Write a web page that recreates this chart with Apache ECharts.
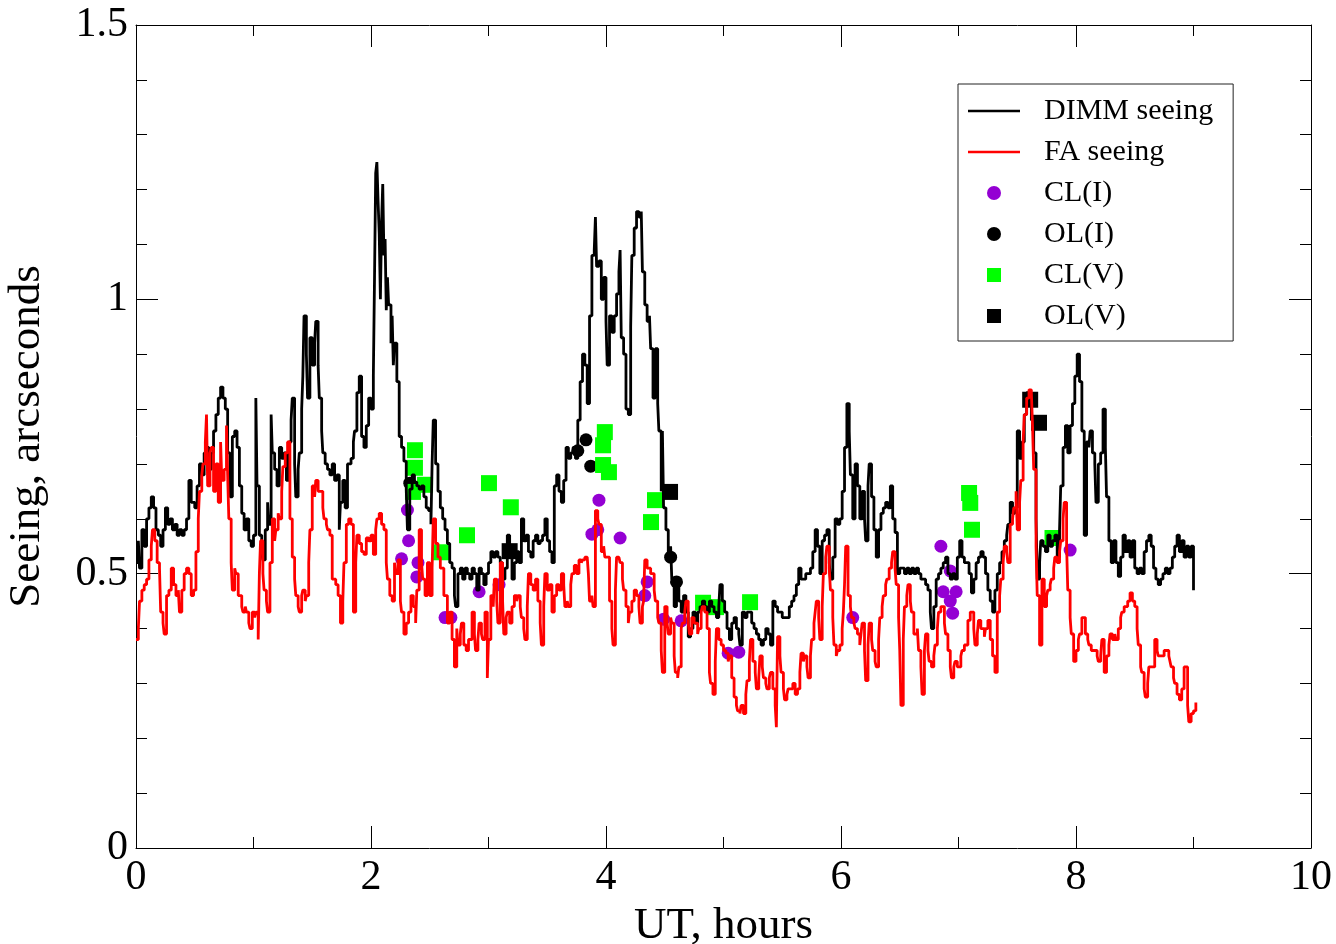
<!DOCTYPE html>
<html>
<head>
<meta charset="utf-8">
<script src="https://cdn.jsdelivr.net/npm/echarts@6/dist/echarts.min.js"></script>
<style>html,body{margin:0;padding:0;background:#fff}#c{width:1336px;height:944px}</style>
</head>
<body>
<div id="c"></div>
<script>
// ---- data: [UT hours, seeing arcsec] ----
const dimmSeeing = [
[0.00,0.52],[0.02,0.56],[0.03,0.51],[0.05,0.58],[0.07,0.55],[0.09,0.60],[0.11,0.62],[0.13,0.64],[0.15,0.62],[0.17,0.58],
[0.19,0.57],[0.21,0.55],[0.23,0.58],[0.25,0.62],[0.27,0.59],[0.29,0.60],[0.31,0.58],[0.33,0.59],[0.35,0.57],[0.37,0.58],
[0.39,0.57],[0.41,0.58],[0.43,0.60],[0.45,0.67],[0.47,0.63],[0.50,0.62],[0.52,0.66],[0.54,0.70],[0.56,0.68],[0.58,0.72],
[0.60,0.73],[0.62,0.69],[0.64,0.72],[0.66,0.76],[0.68,0.79],[0.70,0.82],[0.72,0.84],[0.74,0.82],[0.76,0.80],[0.78,0.72],
[0.80,0.64],[0.82,0.75],[0.84,0.76],[0.86,0.73],[0.88,0.66],[0.90,0.61],[0.92,0.58],[0.94,0.60],[0.96,0.56],[0.98,0.55],
[1.00,0.57],[1.02,0.82],[1.03,0.66],[1.05,0.57],[1.07,0.54],[1.08,0.525],[1.10,0.58],[1.12,0.63],[1.13,0.59],[1.15,0.79],
[1.16,0.72],[1.18,0.69],[1.20,0.66],[1.22,0.73],[1.24,0.71],[1.26,0.72],[1.28,0.67],[1.30,0.74],[1.32,0.78],[1.33,0.82],
[1.35,0.70],[1.36,0.64],[1.38,0.69],[1.39,0.72],[1.41,0.80],[1.42,0.86],[1.43,0.97],[1.45,0.90],[1.46,0.82],[1.48,0.93],
[1.50,0.88],[1.52,0.92],[1.53,0.96],[1.55,0.88],[1.56,0.82],[1.58,0.76],[1.59,0.72],[1.61,0.70],[1.63,0.69],[1.65,0.68],
[1.67,0.70],[1.69,0.67],[1.71,0.68],[1.73,0.58],[1.74,0.63],[1.76,0.67],[1.78,0.62],[1.80,0.70],[1.83,0.71],[1.85,0.74],
[1.86,0.76],[1.88,0.83],[1.90,0.86],[1.92,0.75],[1.94,0.73],[1.96,0.77],[1.98,0.82],[2.00,0.80],[2.02,0.86],[2.03,1.04],
[2.04,1.23],[2.05,1.25],[2.06,1.18],[2.07,1.12],[2.08,1.00],[2.09,1.14],[2.10,1.21],[2.11,1.08],[2.12,1.11],[2.13,0.98],
[2.14,1.04],[2.15,0.99],[2.17,0.92],[2.18,0.97],[2.19,0.88],[2.20,0.92],[2.22,0.85],[2.24,0.75],[2.26,0.73],[2.28,0.705],
[2.30,0.654],[2.31,0.58],[2.33,0.654],[2.35,0.68],[2.37,0.667],[2.39,0.66],[2.41,0.654],[2.43,0.66],[2.45,0.64],[2.47,0.62],
[2.49,0.615],[2.51,0.59],[2.52,0.70],[2.53,0.78],[2.55,0.70],[2.57,0.65],[2.59,0.62],[2.61,0.60],[2.63,0.58],[2.65,0.555],
[2.67,0.52],[2.69,0.51],[2.71,0.46],[2.72,0.44],[2.74,0.50],[2.76,0.51],[2.78,0.49],[2.80,0.51],[2.82,0.50],[2.84,0.49],
[2.86,0.51],[2.88,0.50],[2.90,0.47],[2.92,0.51],[2.94,0.50],[2.96,0.48],[2.98,0.50],[3.00,0.52],[3.02,0.54],[3.04,0.53],
[3.06,0.54],[3.08,0.53],[3.10,0.52],[3.12,0.49],[3.14,0.51],[3.16,0.57],[3.18,0.55],[3.20,0.49],[3.22,0.52],[3.24,0.54],
[3.26,0.52],[3.28,0.60],[3.30,0.56],[3.32,0.57],[3.34,0.54],[3.36,0.53],[3.38,0.56],[3.40,0.57],[3.42,0.555],[3.44,0.56],
[3.46,0.57],[3.48,0.60],[3.50,0.56],[3.52,0.54],[3.54,0.52],[3.56,0.66],[3.58,0.68],[3.60,0.65],[3.62,0.63],[3.64,0.67],
[3.66,0.73],[3.68,0.71],[3.70,0.72],[3.72,0.73],[3.74,0.71],[3.76,0.78],[3.78,0.85],[3.80,0.90],[3.82,0.88],[3.84,0.81],
[3.86,0.97],[3.88,1.08],[3.90,1.09],[3.91,1.15],[3.92,1.06],[3.94,1.07],[3.96,1.00],[3.98,1.04],[4.00,0.96],[4.01,0.88],
[4.03,0.97],[4.05,0.94],[4.07,0.97],[4.09,1.01],[4.11,1.05],[4.12,1.09],[4.13,0.93],[4.15,0.90],[4.17,0.80],[4.19,0.79],
[4.21,0.95],[4.22,1.08],[4.24,1.13],[4.26,1.16],[4.28,1.15],[4.30,1.16],[4.31,1.05],[4.33,0.99],[4.35,0.96],[4.37,0.97],
[4.38,0.91],[4.40,0.82],[4.42,0.91],[4.44,0.81],[4.45,0.76],[4.47,0.65],[4.48,0.76],[4.49,0.62],[4.51,0.58],[4.53,0.53],
[4.55,0.55],[4.56,0.49],[4.58,0.44],[4.60,0.48],[4.62,0.45],[4.64,0.43],[4.66,0.46],[4.68,0.43],[4.70,0.385],[4.72,0.40],
[4.74,0.43],[4.76,0.41],[4.78,0.43],[4.80,0.44],[4.82,0.45],[4.84,0.44],[4.86,0.43],[4.88,0.45],[4.90,0.44],[4.92,0.43],
[4.94,0.42],[4.96,0.44],[4.97,0.48],[4.99,0.45],[5.01,0.43],[5.03,0.40],[5.05,0.38],[5.07,0.41],[5.09,0.42],[5.11,0.40],
[5.13,0.39],[5.14,0.37],[5.16,0.43],[5.18,0.42],[5.20,0.43],[5.22,0.43],[5.24,0.41],[5.26,0.40],[5.28,0.39],[5.30,0.38],
[5.32,0.37],[5.34,0.38],[5.36,0.40],[5.38,0.39],[5.40,0.37],[5.42,0.45],[5.44,0.44],[5.46,0.43],[5.48,0.43],[5.50,0.42],
[5.52,0.42],[5.54,0.42],[5.56,0.44],[5.58,0.45],[5.60,0.46],[5.62,0.48],[5.64,0.51],[5.66,0.49],[5.68,0.49],[5.70,0.50],
[5.72,0.50],[5.74,0.51],[5.76,0.54],[5.78,0.58],[5.80,0.55],[5.82,0.50],[5.84,0.56],[5.86,0.57],[5.88,0.58],[5.90,0.52],
[5.91,0.49],[5.93,0.53],[5.95,0.60],[5.97,0.59],[5.99,0.60],[6.01,0.65],[6.03,0.73],[6.05,0.81],[6.07,0.76],[6.08,0.68],
[6.10,0.60],[6.12,0.70],[6.14,0.66],[6.16,0.60],[6.18,0.65],[6.20,0.60],[6.21,0.56],[6.23,0.66],[6.24,0.70],[6.26,0.64],
[6.28,0.58],[6.30,0.53],[6.32,0.58],[6.34,0.61],[6.36,0.62],[6.38,0.63],[6.40,0.62],[6.42,0.66],[6.44,0.60],[6.46,0.575],
[6.48,0.50],[6.50,0.51],[6.52,0.51],[6.54,0.50],[6.56,0.51],[6.58,0.50],[6.60,0.51],[6.62,0.50],[6.64,0.51],[6.66,0.50],
[6.68,0.49],[6.70,0.49],[6.72,0.48],[6.74,0.47],[6.76,0.43],[6.77,0.40],[6.79,0.44],[6.81,0.49],[6.83,0.50],[6.85,0.51],
[6.87,0.52],[6.89,0.53],[6.91,0.50],[6.93,0.49],[6.95,0.50],[6.97,0.49],[6.99,0.53],[7.01,0.56],[7.03,0.53],[7.05,0.52],
[7.07,0.52],[7.09,0.50],[7.11,0.465],[7.13,0.49],[7.15,0.52],[7.17,0.53],[7.19,0.54],[7.21,0.53],[7.23,0.50],[7.25,0.47],
[7.27,0.45],[7.29,0.43],[7.31,0.47],[7.33,0.50],[7.35,0.52],[7.37,0.54],[7.39,0.56],[7.41,0.57],[7.42,0.59],[7.44,0.63],
[7.46,0.61],[7.48,0.62],[7.50,0.76],[7.52,0.71],[7.54,0.74],[7.56,0.79],[7.58,0.83],[7.60,0.82],[7.62,0.78],[7.64,0.72],
[7.66,0.60],[7.67,0.49],[7.69,0.52],[7.70,0.56],[7.72,0.55],[7.74,0.54],[7.76,0.57],[7.78,0.55],[7.80,0.56],[7.82,0.57],
[7.84,0.53],[7.86,0.58],[7.87,0.66],[7.89,0.73],[7.91,0.77],[7.93,0.72],[7.95,0.77],[7.97,0.81],[7.99,0.86],[8.01,0.90],
[8.03,0.85],[8.05,0.76],[8.07,0.57],[8.09,0.74],[8.11,0.73],[8.12,0.76],[8.14,0.72],[8.16,0.70],[8.17,0.63],[8.19,0.70],
[8.21,0.72],[8.23,0.80],[8.25,0.73],[8.26,0.64],[8.28,0.56],[8.30,0.52],[8.32,0.56],[8.34,0.52],[8.36,0.495],[8.38,0.53],
[8.40,0.57],[8.42,0.54],[8.44,0.56],[8.46,0.53],[8.48,0.56],[8.50,0.51],[8.52,0.50],[8.54,0.51],[8.56,0.50],[8.58,0.54],
[8.60,0.56],[8.62,0.57],[8.64,0.55],[8.66,0.51],[8.68,0.49],[8.70,0.48],[8.72,0.49],[8.74,0.50],[8.76,0.51],[8.78,0.50],
[8.80,0.51],[8.82,0.53],[8.84,0.55],[8.86,0.57],[8.88,0.54],[8.90,0.56],[8.92,0.53],[8.94,0.55],[8.96,0.53],[8.98,0.55],
[9.00,0.47]
];
const faSeeing = [
[0.00,0.38],[0.02,0.40],[0.03,0.45],[0.05,0.47],[0.07,0.48],[0.09,0.49],[0.11,0.525],[0.13,0.55],[0.14,0.58],[0.16,0.56],
[0.18,0.52],[0.20,0.51],[0.21,0.43],[0.23,0.41],[0.24,0.39],[0.26,0.46],[0.28,0.47],[0.30,0.51],[0.32,0.48],[0.34,0.46],
[0.36,0.47],[0.37,0.43],[0.39,0.47],[0.41,0.50],[0.43,0.51],[0.45,0.50],[0.47,0.46],[0.49,0.47],[0.51,0.54],[0.53,0.60],
[0.54,0.65],[0.56,0.68],[0.57,0.70],[0.59,0.74],[0.60,0.79],[0.61,0.66],[0.63,0.72],[0.64,0.73],[0.66,0.65],[0.68,0.70],
[0.70,0.63],[0.72,0.74],[0.73,0.67],[0.75,0.69],[0.77,0.77],[0.78,0.68],[0.79,0.60],[0.81,0.52],[0.82,0.47],[0.84,0.51],
[0.85,0.50],[0.87,0.46],[0.88,0.46],[0.90,0.44],[0.91,0.43],[0.93,0.44],[0.94,0.43],[0.96,0.41],[0.97,0.40],[0.99,0.43],
[1.01,0.42],[1.02,0.43],[1.04,0.38],[1.05,0.50],[1.06,0.56],[1.08,0.50],[1.09,0.47],[1.11,0.45],[1.12,0.43],[1.14,0.52],
[1.16,0.60],[1.18,0.56],[1.19,0.58],[1.21,0.61],[1.22,0.60],[1.24,0.65],[1.25,0.695],[1.27,0.72],[1.29,0.74],[1.31,0.60],
[1.33,0.53],[1.35,0.49],[1.36,0.46],[1.38,0.44],[1.39,0.43],[1.41,0.46],[1.42,0.47],[1.44,0.45],[1.45,0.46],[1.47,0.52],
[1.48,0.58],[1.50,0.66],[1.52,0.64],[1.53,0.67],[1.55,0.65],[1.57,0.65],[1.59,0.62],[1.60,0.60],[1.62,0.59],[1.63,0.58],
[1.65,0.57],[1.67,0.49],[1.70,0.48],[1.72,0.46],[1.74,0.41],[1.76,0.45],[1.77,0.52],[1.79,0.59],[1.81,0.60],[1.83,0.59],
[1.85,0.43],[1.87,0.52],[1.88,0.57],[1.90,0.555],[1.92,0.54],[1.94,0.535],[1.96,0.565],[1.98,0.56],[2.00,0.57],[2.02,0.535],
[2.04,0.58],[2.05,0.60],[2.07,0.61],[2.09,0.59],[2.11,0.58],[2.13,0.52],[2.14,0.49],[2.16,0.46],[2.18,0.45],[2.20,0.52],
[2.21,0.50],[2.23,0.525],[2.25,0.45],[2.26,0.43],[2.28,0.39],[2.30,0.41],[2.32,0.43],[2.34,0.46],[2.36,0.44],[2.38,0.41],
[2.39,0.47],[2.41,0.58],[2.43,0.52],[2.44,0.49],[2.46,0.46],[2.48,0.52],[2.50,0.46],[2.52,0.51],[2.53,0.60],[2.55,0.555],
[2.57,0.53],[2.59,0.51],[2.62,0.46],[2.65,0.41],[2.67,0.43],[2.69,0.38],[2.71,0.33],[2.73,0.40],[2.74,0.37],[2.76,0.39],
[2.77,0.41],[2.79,0.37],[2.81,0.36],[2.83,0.38],[2.86,0.43],[2.88,0.39],[2.89,0.36],[2.91,0.38],[2.92,0.41],[2.94,0.39],
[2.95,0.38],[2.97,0.43],[2.99,0.31],[3.00,0.38],[3.02,0.46],[3.04,0.44],[3.05,0.49],[3.07,0.45],[3.08,0.41],[3.10,0.52],
[3.12,0.45],[3.13,0.39],[3.15,0.42],[3.16,0.43],[3.18,0.41],[3.20,0.44],[3.22,0.46],[3.24,0.45],[3.25,0.46],[3.27,0.44],
[3.28,0.42],[3.30,0.40],[3.31,0.38],[3.33,0.44],[3.34,0.50],[3.36,0.48],[3.38,0.47],[3.40,0.49],[3.42,0.45],[3.44,0.41],
[3.45,0.37],[3.47,0.44],[3.48,0.50],[3.50,0.47],[3.52,0.48],[3.54,0.43],[3.56,0.46],[3.58,0.48],[3.60,0.47],[3.62,0.50],
[3.64,0.48],[3.65,0.44],[3.67,0.45],[3.68,0.44],[3.70,0.48],[3.71,0.50],[3.73,0.515],[3.75,0.50],[3.77,0.525],[3.79,0.52],
[3.80,0.525],[3.82,0.53],[3.84,0.53],[3.85,0.50],[3.86,0.45],[3.88,0.46],[3.89,0.44],[3.91,0.615],[3.93,0.60],[3.94,0.59],
[3.96,0.54],[3.98,0.55],[3.99,0.53],[4.01,0.53],[4.03,0.45],[4.05,0.40],[4.06,0.37],[4.08,0.47],[4.09,0.53],[4.11,0.53],
[4.12,0.52],[4.14,0.49],[4.15,0.47],[4.17,0.44],[4.19,0.41],[4.20,0.43],[4.22,0.45],[4.24,0.47],[4.26,0.46],[4.28,0.44],
[4.29,0.41],[4.31,0.44],[4.32,0.45],[4.33,0.525],[4.35,0.51],[4.36,0.51],[4.38,0.50],[4.39,0.50],[4.41,0.47],[4.42,0.45],
[4.44,0.42],[4.45,0.41],[4.47,0.36],[4.48,0.32],[4.50,0.44],[4.52,0.41],[4.53,0.39],[4.55,0.42],[4.56,0.41],[4.58,0.35],
[4.59,0.32],[4.61,0.31],[4.62,0.33],[4.64,0.40],[4.65,0.41],[4.67,0.43],[4.68,0.45],[4.70,0.41],[4.71,0.39],[4.73,0.42],
[4.75,0.41],[4.76,0.41],[4.78,0.39],[4.79,0.40],[4.81,0.43],[4.82,0.44],[4.84,0.43],[4.86,0.40],[4.88,0.32],[4.89,0.30],
[4.91,0.28],[4.93,0.34],[4.94,0.40],[4.96,0.38],[4.98,0.37],[5.00,0.36],[5.02,0.355],[5.04,0.34],[5.05,0.35],[5.07,0.31],
[5.09,0.275],[5.11,0.26],[5.12,0.25],[5.14,0.245],[5.15,0.26],[5.17,0.245],[5.19,0.28],[5.20,0.305],[5.22,0.34],[5.23,0.38],
[5.25,0.34],[5.27,0.32],[5.28,0.29],[5.30,0.31],[5.31,0.35],[5.33,0.33],[5.34,0.31],[5.36,0.30],[5.37,0.29],[5.39,0.31],
[5.40,0.32],[5.42,0.29],[5.44,0.26],[5.45,0.22],[5.46,0.385],[5.48,0.35],[5.49,0.32],[5.51,0.29],[5.52,0.27],[5.54,0.28],
[5.55,0.29],[5.57,0.29],[5.59,0.30],[5.61,0.28],[5.63,0.29],[5.65,0.32],[5.66,0.355],[5.68,0.34],[5.69,0.35],[5.71,0.33],
[5.72,0.31],[5.74,0.35],[5.75,0.38],[5.77,0.41],[5.78,0.43],[5.79,0.45],[5.81,0.42],[5.82,0.38],[5.84,0.44],[5.85,0.50],
[5.87,0.53],[5.88,0.55],[5.90,0.51],[5.91,0.47],[5.93,0.42],[5.94,0.37],[5.96,0.35],[5.97,0.36],[5.99,0.37],[6.01,0.40],
[6.02,0.43],[6.03,0.48],[6.04,0.55],[6.06,0.46],[6.08,0.44],[6.09,0.42],[6.11,0.41],[6.12,0.40],[6.14,0.39],[6.16,0.37],
[6.17,0.39],[6.18,0.41],[6.20,0.36],[6.21,0.305],[6.23,0.37],[6.24,0.41],[6.26,0.38],[6.27,0.36],[6.29,0.34],[6.30,0.33],
[6.32,0.38],[6.33,0.42],[6.35,0.44],[6.36,0.46],[6.38,0.48],[6.39,0.49],[6.41,0.51],[6.43,0.52],[6.44,0.54],[6.46,0.51],
[6.47,0.48],[6.49,0.42],[6.50,0.36],[6.51,0.26],[6.53,0.38],[6.54,0.44],[6.56,0.46],[6.57,0.48],[6.59,0.45],[6.60,0.43],
[6.62,0.39],[6.63,0.39],[6.65,0.40],[6.66,0.36],[6.68,0.33],[6.69,0.28],[6.71,0.36],[6.72,0.39],[6.74,0.36],[6.75,0.34],
[6.77,0.33],[6.79,0.35],[6.80,0.37],[6.82,0.40],[6.83,0.43],[6.85,0.44],[6.86,0.44],[6.88,0.41],[6.89,0.39],[6.91,0.36],
[6.93,0.33],[6.94,0.31],[6.96,0.33],[6.97,0.34],[6.99,0.33],[7.00,0.33],[7.02,0.35],[7.03,0.36],[7.05,0.37],[7.06,0.37],
[7.08,0.415],[7.10,0.43],[7.11,0.43],[7.13,0.40],[7.14,0.37],[7.16,0.39],[7.17,0.415],[7.19,0.40],[7.20,0.40],[7.22,0.385],
[7.23,0.40],[7.25,0.415],[7.27,0.38],[7.29,0.35],[7.31,0.32],[7.33,0.43],[7.35,0.46],[7.36,0.49],[7.38,0.52],[7.39,0.55],
[7.41,0.54],[7.42,0.52],[7.44,0.59],[7.46,0.60],[7.47,0.62],[7.49,0.65],[7.50,0.58],[7.52,0.63],[7.53,0.67],[7.55,0.74],
[7.56,0.79],[7.58,0.82],[7.60,0.835],[7.62,0.83],[7.63,0.77],[7.64,0.69],[7.66,0.55],[7.67,0.46],[7.69,0.37],[7.71,0.49],
[7.73,0.44],[7.75,0.46],[7.76,0.47],[7.78,0.48],[7.79,0.49],[7.81,0.51],[7.82,0.53],[7.84,0.52],[7.86,0.54],[7.87,0.56],
[7.89,0.60],[7.90,0.63],[7.92,0.55],[7.93,0.47],[7.95,0.42],[7.96,0.39],[7.98,0.34],[8.00,0.36],[8.02,0.38],[8.03,0.39],
[8.05,0.42],[8.06,0.42],[8.08,0.39],[8.10,0.38],[8.11,0.37],[8.13,0.36],[8.14,0.36],[8.16,0.36],[8.18,0.35],[8.19,0.34],
[8.21,0.35],[8.22,0.38],[8.24,0.32],[8.26,0.35],[8.28,0.37],[8.29,0.39],[8.31,0.38],[8.33,0.39],[8.34,0.38],[8.36,0.40],
[8.38,0.42],[8.39,0.43],[8.41,0.44],[8.42,0.44],[8.44,0.45],[8.46,0.465],[8.48,0.45],[8.50,0.44],[8.52,0.40],[8.53,0.37],
[8.55,0.33],[8.56,0.32],[8.58,0.29],[8.59,0.275],[8.61,0.30],[8.62,0.33],[8.64,0.33],[8.65,0.33],[8.67,0.38],[8.69,0.36],
[8.70,0.35],[8.72,0.35],[8.73,0.35],[8.75,0.36],[8.77,0.36],[8.79,0.35],[8.80,0.34],[8.81,0.33],[8.83,0.31],[8.84,0.30],
[8.86,0.28],[8.88,0.27],[8.90,0.29],[8.92,0.33],[8.93,0.33],[8.95,0.26],[8.96,0.23],[8.98,0.245],[9.00,0.25],[9.02,0.265]
];
const clI = [
[2.26,0.527],[2.31,0.616],[2.32,0.56],[2.39,0.494],[2.40,0.52],[2.63,0.42],[2.68,0.42],[2.92,0.467],[3.09,0.48],
[3.88,0.572],[3.93,0.58],[3.94,0.634],[4.12,0.565],[4.33,0.46],[4.35,0.485],[4.49,0.417],[4.64,0.414],
[5.04,0.355],[5.13,0.357],[6.10,0.42],[6.85,0.55],[6.93,0.505],[6.87,0.467],[6.98,0.467],[6.93,0.450],[6.95,0.428],[7.95,0.543]
];
const olI = [[2.33,0.665],[3.76,0.724],[3.83,0.744],[3.87,0.696],[4.55,0.53],[4.60,0.485]];
const clV = [
[2.374,0.725],[2.374,0.693],[2.46,0.662],[2.357,0.649],[2.596,0.539],[2.817,0.570],[3.004,0.665],[3.19,0.621],
[3.99,0.758],[3.975,0.734],[3.975,0.698],[4.025,0.685],[4.417,0.634],[4.383,0.594],[4.826,0.447],[4.936,0.439],
[5.226,0.448],[7.09,0.647],[7.10,0.629],[7.115,0.580],[7.80,0.565]
];
const olV = [[3.18,0.541],[4.545,0.649],[7.61,0.817],[7.685,0.775]];
const seriesNames = ['DIMM seeing','FA seeing','CL(I)','OL(I)','CL(V)','OL(V)'];
const xTitle = 'UT, hours';
const yTitle = 'Seeing, arcseconds';

const FONT = '"Liberation Serif", "Times New Roman", serif';
const LINE_ICON = 'path://M0,0H52V2.5H0Z';
const SQUARE_ICON = 'path://M0,0H10V10H0Z';
const chart = echarts.init(document.getElementById('c'), null, {renderer:'canvas'});
const axisCommon = {
  type:'value', splitLine:{show:false},
  axisLine:{show:true, onZero:false, lineStyle:{color:'#000', width:1}},
  axisTick:{show:true, inside:true, length:22, lineStyle:{color:'#000', width:1}},
  minorTick:{show:true, length:11, lineStyle:{color:'#000', width:1}},
};
chart.setOption({
  animation:false,
  backgroundColor:'#fff',
  grid:{left:136, right:25, top:25, bottom:96, show:false, containLabel:false, outerBoundsMode:'none'},
  xAxis:[
    Object.assign({}, axisCommon, {position:'bottom', min:0, max:10, interval:2,
      minorTick:Object.assign({}, axisCommon.minorTick, {splitNumber:2}),
      axisLabel:{color:'#000', fontFamily:FONT, fontSize:42, margin:9},
      name:xTitle, nameLocation:'middle', nameGap:46,
      nameTextStyle:{color:'#000', fontFamily:FONT, fontSize:45}}),
    Object.assign({}, axisCommon, {position:'top', min:0, max:10, interval:2,
      minorTick:Object.assign({}, axisCommon.minorTick, {splitNumber:2}),
      axisLabel:{show:false}})
  ],
  yAxis:[
    Object.assign({}, axisCommon, {position:'left', min:0, max:1.5, interval:0.5,
      minorTick:Object.assign({}, axisCommon.minorTick, {splitNumber:5}),
      axisLabel:{color:'#000', fontFamily:FONT, fontSize:42, margin:8},
      name:yTitle, nameLocation:'middle', nameGap:86,
      nameTextStyle:{color:'#000', fontFamily:FONT, fontSize:45}}),
    Object.assign({}, axisCommon, {position:'right', min:0, max:1.5, interval:0.5,
      minorTick:Object.assign({}, axisCommon.minorTick, {splitNumber:5}),
      axisLabel:{show:false}})
  ],
  legend:{
    orient:'vertical', left:958, top:84,
    padding:[12,20,10,10], itemGap:11, itemWidth:52, itemHeight:14,
    borderColor:'#222', borderWidth:1, backgroundColor:'#fff', symbolKeepAspect:true,
    textStyle:{color:'#000', fontFamily:FONT, fontSize:30, lineHeight:30, padding:[0,0,0,19]},
    data:[
      {name:seriesNames[0], icon:LINE_ICON},
      {name:seriesNames[1], icon:LINE_ICON},
      {name:seriesNames[2], icon:'circle'},
      {name:seriesNames[3], icon:'circle'},
      {name:seriesNames[4], icon:SQUARE_ICON},
      {name:seriesNames[5], icon:SQUARE_ICON}
    ]
  },
  series:[
    {name:seriesNames[0], type:'line', step:'end', data:dimmSeeing, symbol:'none', showSymbol:false,
     lineStyle:{color:'#000', width:2.8}, itemStyle:{color:'#000'}},
    {name:seriesNames[1], type:'line', step:'end', data:faSeeing, symbol:'none', showSymbol:false,
     lineStyle:{color:'#ff0000', width:2.8}, itemStyle:{color:'#ff0000'}},
    {name:seriesNames[2], type:'scatter', data:clI, symbol:'circle', symbolSize:13, itemStyle:{color:'#9400d3', opacity:1}},
    {name:seriesNames[3], type:'scatter', data:olI, symbol:'circle', symbolSize:13, itemStyle:{color:'#000', opacity:1}},
    {name:seriesNames[4], type:'scatter', data:clV, symbol:'rect', symbolSize:16, itemStyle:{color:'#00ff00', opacity:1}},
    {name:seriesNames[5], type:'scatter', data:olV, symbol:'rect', symbolSize:16, itemStyle:{color:'#000', opacity:1}}
  ]
});
</script>
</body>
</html>
